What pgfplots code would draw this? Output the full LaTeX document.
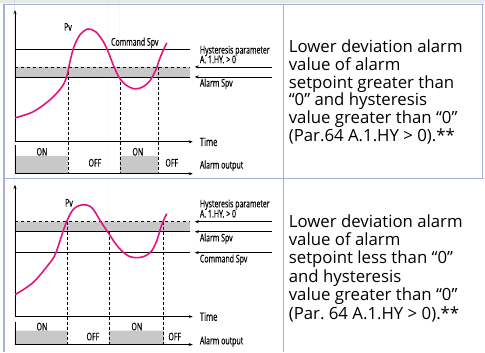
\documentclass[border=0pt]{standalone}
\usepackage{fontspec}
\setmainfont{Open Sans}
\newfontfamily\cond[FakeStretch=0.66, FakeBold=0.4]{Open Sans}
\usepackage{pgfplots}
\pgfplotsset{compat=1.18}
\usetikzlibrary{arrows.meta}
\frenchspacing
\definecolor{pv}{HTML}{E2157F}
\definecolor{band}{HTML}{C8C8C8}
\definecolor{tbl}{HTML}{A4B0DC}
\definecolor{topband}{HTML}{E8E8E8}
\tikzset{
  lab/.style={font=\cond\fontsize{10.6}{10}\selectfont, inner sep=0pt, anchor=west},
  txt/.style={font=\fontsize{16.8}{17}\selectfont, inner sep=0pt, anchor=base west},
  arr/.style={-{Stealth[length=4pt,width=3pt]}, line width=0.7pt},
}
\begin{document}
\begin{tikzpicture}
\begin{axis}[scale only axis, width=485pt, height=352pt,
  xmin=0, xmax=485, ymin=0, ymax=352, y dir=reverse,
  axis lines=none, clip=false,
  every axis plot/.append style={line width=0.8pt},
]
% background
\addplot[draw=none, fill=white] coordinates {(0,0)(485,0)(485,352)(0,352)} \closedcycle;
\addplot[draw=none, fill=topband] coordinates {(0,0)(485,0)(485,3.5)(0,3.5)} \closedcycle;
% table lines
\addplot[tbl, line width=1.2pt] coordinates {(4,4.5)(485,4.5)};
\addplot[tbl, line width=1.2pt] coordinates {(4,4.5)(4,352)};
\addplot[tbl, line width=1.2pt] coordinates {(4,179)(485,179)};
\addplot[tbl, line width=1.2pt] coordinates {(284,4.5)(284,352)};
\addplot[tbl, line width=1.2pt] coordinates {(483,4.5)(483,179)};

%================ TOP PANEL =================
\addplot[draw=none, fill=band] coordinates {(15,67)(190,67)(190,77)(15,77)} \closedcycle;
\addplot[draw=none, fill=band] coordinates {(15,156)(68,156)(68,174)(15,174)} \closedcycle;
\addplot[draw=none, fill=band] coordinates {(120,156)(158,156)(158,174)(120,174)} \closedcycle;
\addplot[black] coordinates {(15,49)(190,49)};
\addplot[black, dashed] coordinates {(15,67)(190,67)};
\addplot[black] coordinates {(15,77)(190,77)};
\addplot[black, densely dashed, line width=0.6pt] coordinates {(68,67)(68,174)};
\addplot[black, densely dashed, line width=0.6pt] coordinates {(120,77)(120,174)};
\addplot[black, densely dashed, line width=0.6pt] coordinates {(158,67)(158,174)};
\addplot[arr] coordinates {(15,142)(15,10)};
\addplot[arr] coordinates {(15,142)(193,142)};
\addplot[black] coordinates {(15,145)(15,174)};
\addplot[arr] coordinates {(15,174)(193,174)};
\addplot[arr] coordinates {(272,67)(195,67)};
\addplot[arr] coordinates {(272,77)(195,77)};
\addplot[pv, line width=1.6pt, smooth, tension=0.55] coordinates {
 (15,118)(33,112)(50,100)(62,87)(67,76)(70,62)(74,47)(80,35)(88,29)(96,32)(103,41)(108,51)(113,64)(119,77)(126,85)(135,89)(143,87)(150,81)(156,70)(161,56)(167,43)};
\node[lab] at (axis cs:64,27) {Pv};
\node[lab] at (axis cs:111,43) {Command Spv};
\node[lab] at (axis cs:200,51) {Hysteresis parameter};
\node[lab] at (axis cs:200,59.5) {A. 1.HY. > 0};
\node[lab] at (axis cs:200,84) {Alarm Spv};
\node[lab, font=\cond\fontsize{11.5}{11}\selectfont] at (axis cs:200,142) {Time};
\node[lab] at (axis cs:200,166) {Alarm output};
\node[lab, anchor=center] at (axis cs:42,152) {ON};
\node[lab, anchor=center] at (axis cs:138,152) {ON};
\node[lab, anchor=center] at (axis cs:95,163) {OFF};
\node[lab, anchor=center] at (axis cs:172,163) {OFF};
\node[txt] at (axis cs:289,52.7) {Lower deviation alarm};
\node[txt] at (axis cs:289,70.5) {value of alarm};
\node[txt] at (axis cs:289,88.3) {setpoint greater than};
\node[txt] at (axis cs:289,106.1) {“0” and hysteresis};
\node[txt] at (axis cs:289,123.9) {value greater than “0”};
\node[txt] at (axis cs:289,141.7) {(Par.64 A.1.HY > 0).**};

%================ BOTTOM PANEL =================
\addplot[draw=none, fill=band] coordinates {(15,222)(190,222)(190,232)(15,232)} \closedcycle;
\addplot[draw=none, fill=band] coordinates {(15,331)(67,331)(67,345)(15,345)} \closedcycle;
\addplot[draw=none, fill=band] coordinates {(109,331)(164,331)(164,345)(109,345)} \closedcycle;
\addplot[black, dashed] coordinates {(15,222)(190,222)};
\addplot[black] coordinates {(15,232)(190,232)};
\addplot[black] coordinates {(15,253)(190,253)};
\addplot[black, densely dashed, line width=0.6pt] coordinates {(67,222)(67,345)};
\addplot[black, densely dashed, line width=0.6pt] coordinates {(109,232)(109,345)};
\addplot[black, densely dashed, line width=0.6pt] coordinates {(164,222)(164,345)};
\addplot[arr] coordinates {(15,317)(15,185)};
\addplot[arr] coordinates {(15,317)(193,317)};
\addplot[black] coordinates {(15,322)(15,345)};
\addplot[arr] coordinates {(15,345)(193,345)};
\addplot[arr] coordinates {(272,222)(195,222)};
\addplot[arr] coordinates {(272,232)(195,232)};
\addplot[arr] coordinates {(272,253)(195,253)};
\addplot[pv, line width=1.6pt, smooth, tension=0.55] coordinates {
 (15,295)(33,283)(50,263)(56,253)(63,232)(68,219)(74,209)(83,205)(92,208)(101,222)(109,234)(118,247)(128,256)(138,258)(146,256)(152,251)(157,241)(161,228)(164,220)(167,214)};
\node[lab] at (axis cs:65,203) {Pv};
\node[lab] at (axis cs:200,205) {Hysteresis parameter};
\node[lab] at (axis cs:200,214) {A. 1.HY. > 0};
\node[lab] at (axis cs:200,239) {Alarm Spv};
\node[lab] at (axis cs:200,260) {Command Spv};
\node[lab, font=\cond\fontsize{11.5}{11}\selectfont] at (axis cs:200,317) {Time};
\node[lab] at (axis cs:200,342) {Alarm output};
\node[lab, anchor=center] at (axis cs:42,327) {ON};
\node[lab, anchor=center] at (axis cs:137,327) {ON};
\node[lab, anchor=center] at (axis cs:93,337) {OFF};
\node[lab, anchor=center] at (axis cs:175,337) {OFF};
\node[txt] at (axis cs:289,227.3) {Lower deviation alarm};
\node[txt] at (axis cs:289,245.8) {value of alarm};
\node[txt] at (axis cs:289,264.3) {setpoint less than “0”};
\node[txt] at (axis cs:289,282.8) {and hysteresis};
\node[txt] at (axis cs:289,301.3) {value greater than “0”};
\node[txt] at (axis cs:289,319.8) {(Par. 64 A.1.HY > 0).**};
\end{axis}
\end{tikzpicture}
\end{document}
